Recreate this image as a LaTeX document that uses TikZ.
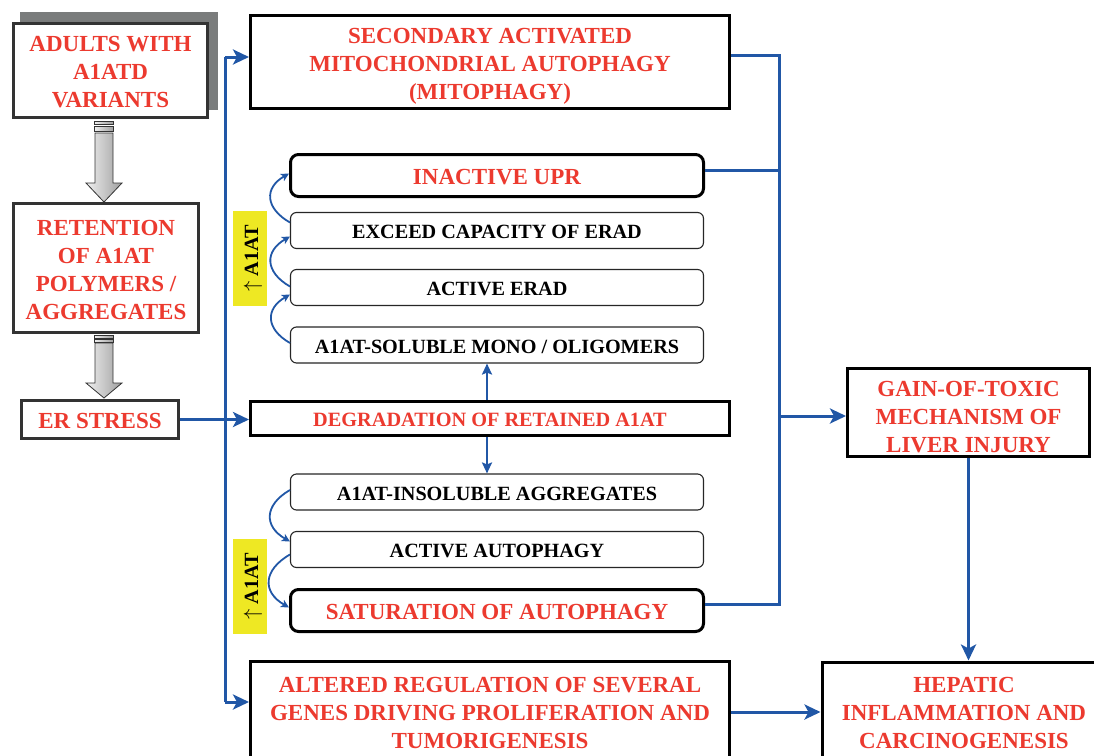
\documentclass[tikz,border=0pt]{standalone}
\usepackage{fontspec}
\setmainfont{Liberation Serif}
\usetikzlibrary{arrows.meta,calc}
\definecolor{myred}{HTML}{EC3A2F}
\definecolor{myblue}{HTML}{2157A6}
\definecolor{myyellow}{HTML}{EEE823}
\definecolor{dgray}{HTML}{333333}
\definecolor{shadowgray}{HTML}{7A7C7C}
\newcommand\st{\rule[-0.25em]{0pt}{1.3em}}
\newcommand\sthi{\rule[-0.25em]{0pt}{1.2em}}
\newcommand\stlo{\rule[-0.25em]{0pt}{1.55em}}
\begin{document}
\begin{tikzpicture}[x=1pt,y=-1pt,
 redtxt/.style={text=myred,font=\fontsize{23}{28}\selectfont\bfseries,align=center,inner sep=0pt},
 blktxt/.style={text=black,font=\fontsize{20.2}{24}\selectfont\bfseries,align=center,inner sep=0pt},
 leftbox/.style={draw=dgray,line width=3pt,fill=white},
 mainbox/.style={draw=black,line width=3pt,fill=white},
 thinbox/.style={draw=black!85,line width=1.1pt,rounded corners=6pt,fill=white,minimum width=413pt,minimum height=36pt},
 thickbox/.style={draw=black,line width=3pt,rounded corners=8pt,fill=white,minimum width=413pt,minimum height=42pt},
 bluearrow/.style={draw=myblue,line width=3pt,-{Stealth[length=16pt,width=15pt,inset=4pt]}},
 blueline/.style={draw=myblue,line width=3pt},
 smallarrow/.style={draw=myblue,line width=2.5pt,-{Stealth[length=11pt,width=10pt,inset=2pt]}},
 curvearrow/.style={draw=myblue,line width=1.8pt,looseness=1.5,-{Stealth[length=8pt,width=8pt,inset=2pt]}},
 yellowtag/.style={fill=myyellow,rotate=90,minimum width=95pt,minimum height=34pt,inner sep=0pt},
 grayarrow/.style={draw=dgray,line width=0.8pt,left color=gray!12,right color=gray!75},
]
\useasboundingbox (0,0) rectangle (1094,755);
\clip (0,0) rectangle (1094,755);

% left column
\fill[shadowgray] (20,12) rectangle (218,110);
\node[leftbox,minimum width=194pt,minimum height=94pt,redtxt] (adults) at (110.5,70.5) {\st ADULTS WITH\\A1ATD\\\st VARIANTS};
\node[leftbox,minimum width=185pt,minimum height=129pt,redtxt] (ret) at (106,268) {\st RETENTION\\OF A1AT\\POLYMERS /\\\st AGGREGATES};
\node[leftbox,minimum width=157pt,minimum height=38pt,redtxt] (er) at (100,419.5) {\st ER STRESS};

% gray block arrows
\coordinate (g1) at (104,119);
\path[grayarrow] (g1) ++(-10,2) rectangle ++(19,3);
\path[grayarrow] (g1) ++(-10,7.5) rectangle ++(19,5);
\path[grayarrow] (g1) ++(-9,14) -- ++(18,0) -- ++(0,50) -- ++(9,0) -- ++(-18,19) -- ++(-18,-19) -- ++(9,0) -- cycle;
\coordinate (g2) at (104,334);
\path[grayarrow] (g2) ++(-10,1) rectangle ++(19,3);
\path[grayarrow] (g2) ++(-10,5) rectangle ++(19,3.5);
\path[grayarrow] (g2) ++(-9,9) -- ++(18,0) -- ++(0,40) -- ++(9,0) -- ++(-18,15) -- ++(-18,-15) -- ++(9,0) -- cycle;

% middle column
\node[mainbox,minimum width=479pt,minimum height=93pt,redtxt] (sec) at (490,62) {\st SECONDARY ACTIVATED\\MITOCHONDRIAL AUTOPHAGY\\\st (MITOPHAGY)};
\node[thickbox,redtxt] (upr) at (497,175.5) {\st INACTIVE UPR};
\node[thinbox,blktxt] (exc) at (497,230.5) {\st EXCEED CAPACITY OF ERAD};
\node[thinbox,blktxt] (erad) at (497,287.5) {\st ACTIVE ERAD};
\node[thinbox,blktxt] (sol) at (497,345) {\st A1AT-SOLUBLE MONO / OLIGOMERS};
\node[mainbox,minimum width=479pt,minimum height=34pt,redtxt,font=\fontsize{20.3}{24}\selectfont\bfseries] (deg) at (490,418.5) {\st DEGRADATION OF RETAINED A1AT};
\node[thinbox,blktxt] (ins) at (497,492) {\st A1AT-INSOLUBLE AGGREGATES};
\node[thinbox,blktxt] (aut) at (497,549.5) {\st ACTIVE AUTOPHAGY};
\node[thickbox,redtxt] (sat) at (497,610.5) {\st SATURATION OF AUTOPHAGY};
\node[mainbox,minimum width=479pt,minimum height=102pt,redtxt] (alt) at (490,712) {\sthi ALTERED REGULATION OF SEVERAL\\GENES DRIVING PROLIFERATION AND\\\st TUMORIGENESIS};

% right column
\node[mainbox,minimum width=242pt,minimum height=88pt,redtxt,inner ysep=-3pt] (gain) at (968.5,412.5) {\stlo GAIN-OF-TOXIC\\MECHANISM OF\\\st LIVER INJURY};
\node[mainbox,minimum width=284pt,minimum height=100pt,redtxt] (hep) at (964,712) {\sthi HEPATIC\\INFLAMMATION AND\\\st CARCINOGENESIS};

% yellow tags
\node[yellowtag,blktxt] (y1) at (250,258.5) {\st$\uparrow$ A1AT};
\node[yellowtag,blktxt] (y2) at (250,586.5) {\st$\uparrow$ A1AT};

% curved arrows
\draw[curvearrow] ([yshift=8pt]exc.west) to[out=150,in=210] ([yshift=2pt]upr.west);
\draw[curvearrow] ([yshift=1pt]erad.west) to[out=150,in=210] ([yshift=-6pt]exc.west);
\draw[curvearrow] ([yshift=2pt]sol.west) to[out=150,in=210] ([yshift=-7pt]erad.west);
\draw[curvearrow] ([yshift=2pt]ins.west) to[out=210,in=150] ([yshift=8pt]aut.west);
\draw[curvearrow] ([yshift=-5pt]aut.west) to[out=210,in=150] ([yshift=3pt]sat.west);

% left blue bus
\coordinate (vtop) at (225,57);
\coordinate (vbot) at (225,702);
\draw[blueline] (vbot) -- (vtop);
\draw[bluearrow] (vtop) -- (vtop -| sec.west);
\draw[bluearrow] (vbot) -- (vbot -| alt.west);
\draw[bluearrow] (er.east) -- (er.east -| deg.west);

% degradation arrows
\coordinate (dn) at ([xshift=-3pt]deg.north);
\draw[smallarrow] (dn) -- (dn |- sol.south);
\coordinate (ds) at ([xshift=-3pt]deg.south);
\draw[smallarrow] (ds) -- (ds |- ins.north);

% right blue bus
\coordinate (rtop) at (779,55);
\coordinate (rupr) at (779,170);
\coordinate (rmid) at (779,416);
\coordinate (rbot) at (779,604);
\draw[blueline] (rtop -| sec.east) -- (rtop) -- (rbot) -- (rbot -| sat.east);
\draw[blueline] (rupr -| upr.east) -- (rupr);
\draw[bluearrow] (rmid) -- (rmid -| gain.west);
\draw[bluearrow] (gain.south) -- (gain.south |- hep.north);
\draw[bluearrow] (alt.east) -- (hep.west);
\end{tikzpicture}
\end{document}
